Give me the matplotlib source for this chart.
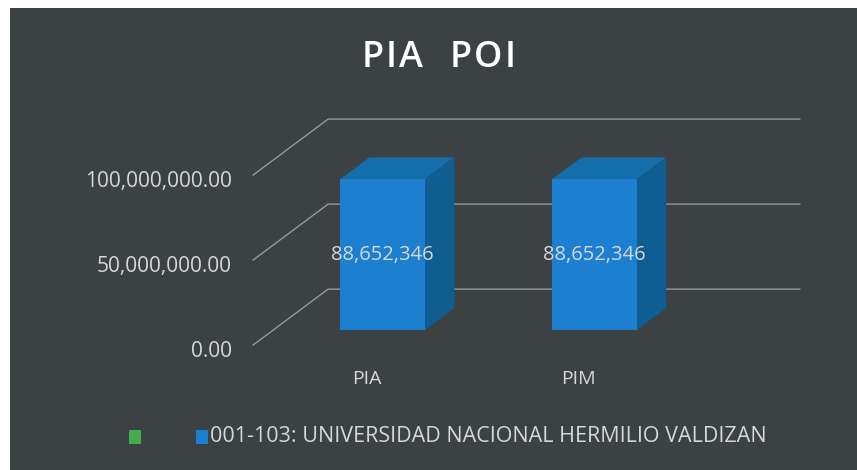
import matplotlib.pyplot as plt
from matplotlib.patches import Polygon, Rectangle

# Dados do gráfico
categorias = ["PIA", "PIM"]
valores = [88652346, 88652346]
ticks = [0, 50000000, 100000000]
series = ["", "001-103: UNIVERSIDAD NACIONAL HERMILIO VALDIZAN"]
cores_series = ["#46aa50", "#1c80d0"]
titulo = "PIA  POI"

plt.rcParams['font.family'] = ['Open Sans', 'DejaVu Sans']

FUNDO = "#3c4144"
TEXTO = "#d6d8d8"
GRADE = "#9da2a4"
FRENTE = "#1c7fcf"
LADO = "#0f5d91"
TOPO = "#136ea9"

# Efeito 3D (profundidade em unidades de dados)
DX, DY = 0.354, 32.94e6
F1 = 0.27      # posição da face frontal das barras na profundidade
BD = 0.39      # profundidade da barra
LARGURA = 0.4

W, H = 857, 470
fig = plt.figure(figsize=(W / 100, H / 100), dpi=100, facecolor="white")
fig.add_artist(Rectangle((10 / W, 0), 1, 462 / H, transform=fig.transFigure,
                         facecolor=FUNDO, edgecolor="none", zorder=-10))

ax = fig.add_axes([0, 0, 1, 1])
ax.set_xlim(-1.804, 2.238)
ax.set_ylim(-82.35e6, 194.1e6)
ax.axis("off")


def texto_espacado(xc, y, s, espaco, fator_esp, **kw):
    # texto com espaçamento extra entre letras (px)
    r = fig.canvas.get_renderer()
    larg = []
    for ch in s:
        t = fig.text(0, 0, "n" if ch == " " else ch, **kw)
        w = t.get_window_extent(r).width
        t.remove()
        larg.append(w * fator_esp if ch == " " else w)
    total = sum(larg) + espaco * (len(s) - 1)
    x = xc * W - total / 2
    for ch, w in zip(s, larg):
        if ch != " ":
            fig.text(x / W, y, ch, ha="left", va="baseline", **kw)
        x += w + espaco


# Linhas de grade (parede de fundo + diagonais)
x_esq = -0.515
x_dir = 1.71
for t in ticks:
    xs = [x_esq - F1 * DX, x_esq + (1 - F1) * DX, x_dir + (1 - F1) * DX]
    ys = [t - F1 * DY, t + (1 - F1) * DY, t + (1 - F1) * DY]
    ax.plot(xs, ys, color=GRADE, lw=0.9, zorder=1)
    ax.text(x_esq - F1 * DX - 0.1, t - F1 * DY - 4e6, f"{t:,.2f}", ha="right",
            va="center", fontsize=15, color=TEXTO)

# Barras 3D
x = list(range(len(categorias)))
ax.bar(x, valores, width=LARGURA, color=FRENTE, zorder=3)
for xi, v in zip(x, valores):
    xr = xi + LARGURA / 2
    xl = xi - LARGURA / 2
    topo = [(xl, v), (xr, v), (xr + BD * DX, v + BD * DY), (xl + BD * DX, v + BD * DY)]
    lado = [(xr, 0), (xr, v), (xr + BD * DX, v + BD * DY), (xr + BD * DX, BD * DY)]
    ax.add_patch(Polygon(topo, closed=True, facecolor=TOPO, edgecolor="none", zorder=2))
    ax.add_patch(Polygon(lado, closed=True, facecolor=LADO, edgecolor="none", zorder=2))
    ax.text(xi, v / 2, f"{v:,}", ha="center", va="center", fontsize=14.5,
            color=TEXTO, zorder=4)

# Rótulos das categorias
for xi, c in zip(x, categorias):
    ax.text(xi - F1 * DX + 0.02, -29e6, c, ha="center", va="center", fontsize=14,
            color=TEXTO)

# Título
texto_espacado(438.5 / W, 1 - 67 / H, titulo, 2.5, 0.4, fontsize=26,
               fontweight="semibold", color="white")

# Legenda
pos_leg = [129, 196]
for px, nome, cor in zip(pos_leg, series, cores_series):
    fig.add_artist(Rectangle((px / W, 1 - 444 / H), 12 / W, 14 / H,
                             transform=fig.transFigure, facecolor=cor, edgecolor="none"))
    if nome:
        fig.text((px + 14) / W, 1 - 437 / H, nome, ha="left", va="center",
                 fontsize=15.5, color=TEXTO)

fig.savefig("out.png", dpi=100, facecolor=fig.get_facecolor())
